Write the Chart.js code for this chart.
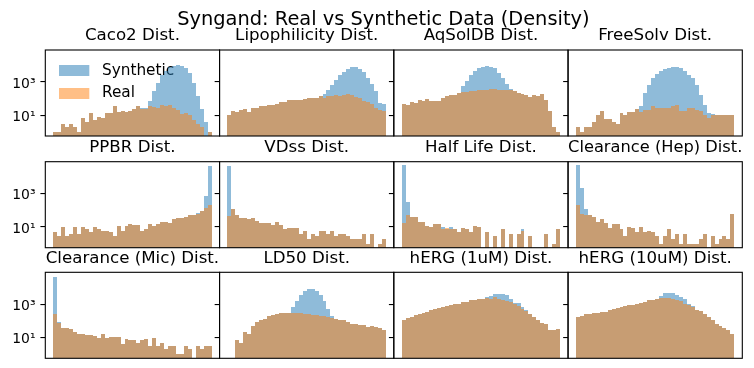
<!DOCTYPE html>
<html>
<head>
<meta charset="utf-8">
<script src="https://cdn.jsdelivr.net/npm/chart.js@4.4.1/dist/chart.umd.min.js"></script>
<style>
  html, body { margin: 0; padding: 0; background: #fff; }
  #wrap { position: relative; width: 754px; height: 368px; overflow: hidden; background: #fff; }
  #wrap canvas { position: absolute; left: 0; top: 0; }
  #suptitle { position: absolute; left: 383.4px; top: 9.4px; transform: translateX(-50%);
              font-family: "DejaVu Sans", sans-serif; font-size: 19.4px; line-height: 1;
              white-space: nowrap; color: #000; z-index: 5; }
</style>
</head>
<body>
<div id="wrap"><div id="suptitle"></div></div>
<script>
// ---------------- data ----------------
const suptitle = 'Syngand: Real vs Synthetic Data (Density)';
const panelTitles = ['Caco2 Dist.', 'Lipophilicity Dist.', 'AqSolDB Dist.', 'FreeSolv Dist.',
                     'PPBR Dist.', 'VDss Dist.', 'Half Life Dist.', 'Clearance (Hep) Dist.',
                     'Clearance (Mic) Dist.', 'LD50 Dist.', 'hERG (1uM) Dist.', 'hERG (10uM) Dist.'];
const seriesNames = ['Synthetic', 'Real'];
const yTickValues = [10, 1000];
const yTickLabels = ['10\u00B9', '10\u00B3'];

// histogram counts per bin (40 bins each)
const synthCaco2 = [1,1,3,2,3,2,1,7,4,13, 5,8,7,14,14,37,15,18,15,17, 24,37,26,28,75,300,870,2450,4700,7800, 8900,10000,8900,6700,3300,910,145,23,4,1];
const realCaco2  = [1,1,3,2,3,2,1,7,4,13, 5,8,7,14,14,37,15,18,15,17, 24,37,24,24,34,31,26,42,37,42, 26,21,12,14,10,5,3,2,0,1];

const synthLipo = [10,19,15,21,24,15,26,29,37,37, 40,42,46,64,64,81,81,81,81,98, 112,112,102,141,190,330,650,1300,2500,4200, 6200,7800,7800,6000,3800,1800,700,270,55,46];
const realLipo  = [10,19,15,21,24,15,26,29,37,37, 40,42,46,64,64,81,81,81,81,98, 112,112,102,141,112,141,141,155,141,155, 178,155,129,112,71,64,46,29,21,17];

const synthAqSol = [49,42,61,53,85,74,98,74,74,74, 107,141,155,170,204,550,1100,2500,4470,6460, 8130,8910,8130,6460,3550,1740,760,350,269,204, 186,155,117,155,148,195,85,18,2,1];
const realAqSol  = [49,42,61,53,85,74,98,74,74,74, 107,141,155,170,204,245,245,269,282,309, 331,331,398,380,331,331,331,331,269,204, 186,155,117,155,148,195,85,18,2,1];

const synthFreeSolv = [2,1,2,2,4,10,17,6,6,4, 3,13,10,15,15,24,34,215,690,1740, 3000,4470,5600,7100,7800,7800,6460,4470,2750,1740, 690,155,42,13,12,10,10,10,10,10];
const realFreeSolv  = [2,1,2,2,4,10,17,6,6,4, 3,13,10,15,15,24,15,21,21,37, 26,26,29,29,34,39,18,18,26,26, 21,17,10,7,10,10,10,10,10,10];

const synthPPBR = [5,3,10,3,4,10,4,10,7,5, 10,8,6,6,5,3,11,6,11,14, 13,13,6,8,14,11,14,20,20,18, 29,36,33,38,50,55,66,95,725,45700];
const realPPBR  = [5,3,10,3,4,10,4,10,7,5, 10,8,6,6,5,3,11,6,11,14, 13,13,6,8,14,11,14,20,20,18, 29,36,33,38,50,55,63,91,145,209];

const synthVDss = [45700,126,52,36,36,29,36,23,17,18, 17,13,20,13,8,9,9,9,4,6, 2,4,3,6,6,4,6,3,4,4, 3,2,2,2,4,1,4,0,1,2];
const realVDss  = [46,115,52,36,36,29,36,23,17,18, 17,13,20,13,8,9,9,9,4,6, 2,4,3,6,6,4,6,3,4,4, 3,2,2,2,4,1,4,0,1,2];

const synthHalfLife = [52000,295,37,40,21,21,12,10,14,14, 10,7,10,7,5,9,8,5,12,10, 0,5,0,3,0,7,0,4,0,4, 7,0,3,0,0,0,4,0,1,8];
const realHalfLife  = [18,49,37,42,21,21,12,10,16,14, 7,9,8,7,5,9,8,5,12,10, 0,5,0,3,0,7,0,4,0,4, 6,0,3,0,0,0,4,0,1,8];

const synthClHep = [52000,2100,112,49,37,21,28,18,9,14, 14,8,3,10,9,5,10,5,6,5, 3,1,3,7,2,4,1,4,1,1, 1,2,4,0,3,1,2,3,2,56];
const realClHep  = [195,56,49,49,37,21,28,18,9,14, 14,8,3,10,9,5,10,5,6,5, 3,1,3,7,2,4,1,4,1,1, 1,2,4,0,3,1,2,3,2,56];

const synthClMic = [45000,80,39,39,34,22,17,17,15,15, 13,10,17,10,11,11,11,4,8,7, 7,5,7,8,3,10,3,5,2,3, 3,1,1,3,2,0,3,2,3,3];
const realClMic  = [270,70,39,39,34,22,17,17,15,15, 13,10,17,10,11,11,11,4,8,7, 7,5,7,8,3,10,3,5,2,3, 3,1,1,3,2,0,3,2,3,3];

const synthLD50 = [0,0,7,5,22,17,52,85,112,135, 186,224,269,295,295,309,690,1580,3550,6200, 8130,8130,6200,3550,1580,500,205,135,112,107, 85,68,68,59,56,43,52,43,37,28];
const realLD50  = [0,0,7,5,22,17,52,85,112,135, 186,224,269,295,295,309,309,295,309,269, 257,224,224,195,195,178,148,129,107,107, 85,68,68,59,56,43,52,43,37,28];

const synthHerg1 = [107,141,170,224,269,309,347,437,525,631, 724,832,955,1050,1100,1380,1450,1740,1900,2000, 2190,2630,3020,4070,4270,4270,3720,2190,1200,1150, 690,437,245,170,107,71,68,29,27,34];
const realHerg1  = [107,141,170,224,269,309,347,437,525,631, 724,832,955,1050,1100,1380,1450,1740,1900,2000, 2190,2400,2190,2630,2190,1900,1660,1380,1050,760, 525,380,245,170,107,71,68,29,27,34];

const synthHerg10 = [170,186,245,245,282,316,347,347,437,525, 600,660,760,870,955,1100,1260,1450,1820,1900, 2190,3020,4470,4900,4700,3720,2750,2100,1100,760, 479,380,245,170,107,62,49,39,27,16];
const realHerg10  = [170,186,245,245,282,316,347,347,437,525, 600,660,760,870,955,1100,1260,1450,1820,1900, 2190,2400,2400,2400,2190,1900,1510,1100,955,724, 479,380,245,170,107,62,49,39,27,16];

const syntheticSeries = [synthCaco2, synthLipo, synthAqSol, synthFreeSolv, synthPPBR, synthVDss,
                         synthHalfLife, synthClHep, synthClMic, synthLD50, synthHerg1, synthHerg10];
const realSeries = [realCaco2, realLipo, realAqSol, realFreeSolv, realPPBR, realVDss,
                    realHalfLife, realClHep, realClMic, realLD50, realHerg1, realHerg10];

// ---------------- layout / style ----------------
const W = 754, H = 368;
const colLeft = [45.3, 219.55, 393.8, 568.05];
const colWidth = 174.25;
const rowTop = [50, 161.7, 272.3];
const rowHeight = 86;
const yAxisWidth = 45;
const titleLine = 20, titleGap = 4;
const yMin = Math.pow(10, -0.249), yMax = Math.pow(10, 4.916);
const blue = 'rgba(31,119,180,0.5)';
const orange = 'rgba(255,127,14,0.5)';
const legendFont = 15.3, patchW = 30, patchH = 11, patchSlot = 35;

Chart.defaults.font.family = "'DejaVu Sans', sans-serif";
Chart.defaults.color = '#000';

document.getElementById('suptitle').textContent = suptitle;

// legend handle: a patch drawn on a small canvas, left-aligned in its slot
function makePatch(color) {
  const c = document.createElement('canvas');
  c.width = patchSlot; c.height = patchH;
  const g = c.getContext('2d');
  g.fillStyle = color;
  g.fillRect(0, 0, patchW, patchH);
  return c;
}

const framePlugin = {
  id: 'frame',
  afterDatasetsDraw(chart) {
    const a = chart.chartArea, ctx = chart.ctx;
    ctx.save();
    ctx.strokeStyle = '#000';
    ctx.lineWidth = 1.1;
    ctx.strokeRect(a.left, a.top, a.right - a.left, a.bottom - a.top);
    ctx.restore();
  }
};
// snap bar edges to whole pixels (as matplotlib does) so neighbouring bars show no seams
const snapBars = {
  id: 'snapBars',
  beforeDatasetsDraw(chart) {
    chart.getSortedVisibleDatasetMetas().forEach(meta => {
      meta.data.forEach(el => {
        if (el.width == null || !isFinite(el.y) || !isFinite(el.x)) return;
        const l = Math.round(el.x - el.width / 2), r = Math.round(el.x + el.width / 2);
        el.x = (l + r) / 2; el.width = r - l;
        el.y = Math.round(el.y); el.base = Math.round(el.base);
      });
    });
  }
};
const legendPlace = {
  id: 'legendPlace',
  afterLayout(chart) {
    const lg = chart.legend;
    if (!lg || !chart.options.plugins.legend.display) return;
    const a = chart.chartArea;
    lg.left = a.left + 7; lg.right = a.right;
    lg.top = a.top + 6.05; lg.bottom = a.bottom;
  }
};

const wrap = document.getElementById('wrap');
panelTitles.forEach((title, i) => {
  const r = Math.floor(i / 4), c = i % 4;
  const canvas = document.createElement('canvas');
  canvas.width = W; canvas.height = H;
  canvas.style.width = W + 'px'; canvas.style.height = H + 'px';
  wrap.appendChild(canvas);
  const synth = syntheticSeries[i], real = realSeries[i];
  const n = synth.length;
  const bins = synth.map((_, k) => k);
  const showLabels = c === 0;
  new Chart(canvas, {
    type: 'bar',
    data: {
      labels: bins,
      datasets: [
        { label: seriesNames[0], data: synth.map(v => v > 0 ? v : null), backgroundColor: blue,
          borderWidth: 0, grouped: false, order: 1, barPercentage: 1, categoryPercentage: 1, inflateAmount: 0 },
        { label: seriesNames[1], data: real.map(v => v > 0 ? v : null), backgroundColor: orange,
          borderWidth: 0, grouped: false, order: 0, barPercentage: 1, categoryPercentage: 1, inflateAmount: 0 }
      ]
    },
    options: {
      responsive: false,
      animation: false,
      devicePixelRatio: 1,
      events: [],
      layout: {
        padding: {
          left: colLeft[c] - yAxisWidth,
          top: rowTop[r] - titleLine - titleGap,
          right: W - (colLeft[c] + colWidth),
          bottom: H - (rowTop[r] + rowHeight)
        }
      },
      scales: {
        x: { type: 'linear', display: false, offset: false,
             min: -0.5 - 0.05 * n, max: n - 0.5 + 0.05 * n },
        y: {
          type: 'logarithmic', min: yMin, max: yMax,
          afterBuildTicks: (axis) => { axis.ticks = yTickValues.map(v => ({ value: v })); },
          afterFit: (axis) => { axis.width = yAxisWidth; axis.paddingTop = 0; axis.paddingBottom = 0; },
          ticks: {
            autoSkip: false, maxRotation: 0, padding: 4.9, labelOffset: 2,
            font: { size: 13.9 }, color: '#000',
            callback: (v) => showLabels ? yTickLabels[yTickValues.indexOf(v)] : ''
          },
          grid: { drawOnChartArea: false, drawTicks: true, tickLength: 4.9, color: '#000', lineWidth: 1.1 },
          border: { display: false }
        }
      },
      plugins: {
        title: { display: true, text: title, fullSize: false, color: '#000',
                 font: { size: 16.67, lineHeight: titleLine / 16.67, weight: 'normal' },
                 padding: { top: 0, bottom: titleGap } },
        legend: {
          display: i === 0, position: 'chartArea', align: 'start', reverse: true,
          labels: {
            usePointStyle: true, pointStyleWidth: patchSlot, boxHeight: patchH,
            padding: 7, font: { size: legendFont }, color: '#000',
            generateLabels: (chart) => {
              const items = Chart.defaults.plugins.legend.labels.generateLabels(chart);
              items.forEach(it => { it.pointStyle = makePatch(it.fillStyle); it.lineWidth = 0; });
              return items;
            }
          }
        },
        tooltip: { enabled: false }
      }
    },
    plugins: [snapBars, framePlugin, legendPlace]
  });
});
</script>
</body>
</html>
